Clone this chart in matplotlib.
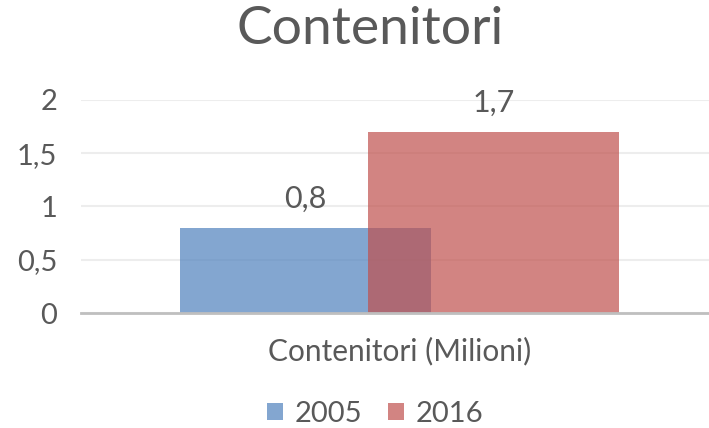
import matplotlib
matplotlib.use("Agg")
import matplotlib.pyplot as plt
from matplotlib.ticker import FuncFormatter, MultipleLocator

# -- data --
category = "Contenitori (Milioni)"
years = ["2005", "2016"]
values = [0.8, 1.7]
colors = ["#4F81BD", "#C0504D"]

TEXT = "#595959"
plt.rcParams["font.family"] = ["Lato", "DejaVu Sans"]


def comma(v, _pos=None):
    s = f"{v:g}"
    return s.replace(".", ",")


fig = plt.figure(figsize=(7.09, 4.28), dpi=100)
ax = fig.add_axes([81 / 709, 115 / 428, 637 / 709, 213 / 428])

width = 0.394
offsets = [-0.1476, 0.1476]
for year, val, col, off in zip(years, values, colors, offsets):
    ax.bar(off, val, width=width, color=col, alpha=0.7, label=year, zorder=2)
    ax.annotate(comma(val), (off, val), xytext=(0, 11), textcoords="offset points",
                ha="center", va="bottom", fontsize=22, color=TEXT)

ax.set_xlim(-0.5, 0.5)
ax.set_ylim(0, 2)
ax.yaxis.set_major_locator(MultipleLocator(0.5))
ax.yaxis.set_major_formatter(FuncFormatter(comma))
ax.set_xticks([0])
ax.set_xticklabels([category])
ax.tick_params(axis="both", length=0, labelsize=21, colors=TEXT)
ax.tick_params(axis="x", labelsize=21.5, pad=17)
ax.tick_params(axis="y", pad=17)
ax.grid(axis="y", color="#EDEDED", linewidth=1.5, zorder=0)
for side in ["top", "right", "left"]:
    ax.spines[side].set_visible(False)
ax.spines["bottom"].set_color("#BFBFBF")
ax.spines["bottom"].set_linewidth(2)
ax.spines["bottom"].set_zorder(3)

fig.text(370 / 709, 1 - 30 / 428, "Contenitori", ha="center", va="center", fontsize=38.5, color=TEXT)

fig.legend(loc="center", bbox_to_anchor=(375 / 709, 1 - 414 / 428), ncol=2, frameon=False,
           fontsize=21, handlelength=0.55, handleheight=0.55, handletextpad=0.4,
           columnspacing=0.9, labelcolor=TEXT)

fig.savefig("out.png", dpi=100)
